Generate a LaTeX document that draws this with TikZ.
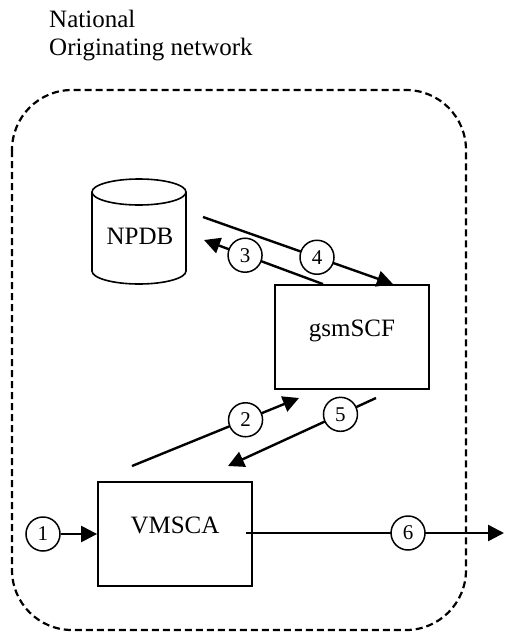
\documentclass[tikz,border=0pt]{standalone}
\usepackage{fontspec}
\setmainfont{Liberation Serif}
\usetikzlibrary{arrows.meta}
\usetikzlibrary{positioning}

\tikzset{
  big/.style={font=\fontsize{25}{30}\selectfont},
  box/.style={draw, line width=1.8pt, minimum width=154pt, minimum height=104pt, inner sep=0pt, text height=16pt, text depth=17pt, big},
  num/.style={draw, circle, fill=white, line width=1.5pt, minimum size=34pt, inner sep=0pt, font=\fontsize{21}{25}\selectfont},
  link/.style={line width=2.4pt, -{Triangle[length=16pt,width=16pt]}},
  border/.style={line width=2.2pt, dash pattern=on 7pt off 4pt, rounded corners=60pt},
}

\begin{document}
\begin{tikzpicture}[x=1pt, y=1pt]
    \useasboundingbox (0,0) rectangle (504,-632);

    \node [big, inner sep=0pt, anchor=base west] (title1) at (49,-27) {National};
    \node [big, inner sep=0pt, anchor=base west] (title2) at (49,-55) {Originating network};

    \draw [border] (12,-90) rectangle (466,-630);

    % database
    \draw [line width=1.6pt] (139,-192) ellipse [x radius=47, y radius=13];
    \draw [line width=1.6pt] (92,-192) -- (92,-271) arc [start angle=180, end angle=360, x radius=47, y radius=13] -- (186,-192);
    \node [big, inner sep=0pt, anchor=base] (npdb) at (140,-244) {NPDB};

    \node [box] (gsmscf) at (352,-337) {gsmSCF};
    \node [box] (vmsca) at (175,-534) {VMSCA};

    \coordinate (s4) at (203,-217);
    \coordinate (t3) at (204,-240);
    \coordinate (s2) at (132,-466);
    \coordinate (t2) at (299,-398);
    \coordinate (s5) at (376,-398);
    \coordinate (t5) at (228,-466);
    \coordinate (s6) at (246,-533);
    \coordinate (t6) at (504,-533);

    \node [num] (n1) at (43,-534) {1};
    \draw [link] (n1) -- (vmsca);
    \draw [link] (s2) -- node [num, pos=0.68] (n2) {2} (t2);
    \draw [link] ([xshift=-29pt]gsmscf.north) -- node [num, pos=0.655] (n3) {3} (t3);
    \draw [link] (s4) -- node [num, pos=0.6] (n4) {4} ([xshift=41pt]gsmscf.north);
    \draw [link] (s5) -- node [num, pos=0.24] (n5) {5} (t5);
    \draw [link] (s6) -- node [num, pos=0.628] (n6) {6} (t6);
\end{tikzpicture}
\end{document}
